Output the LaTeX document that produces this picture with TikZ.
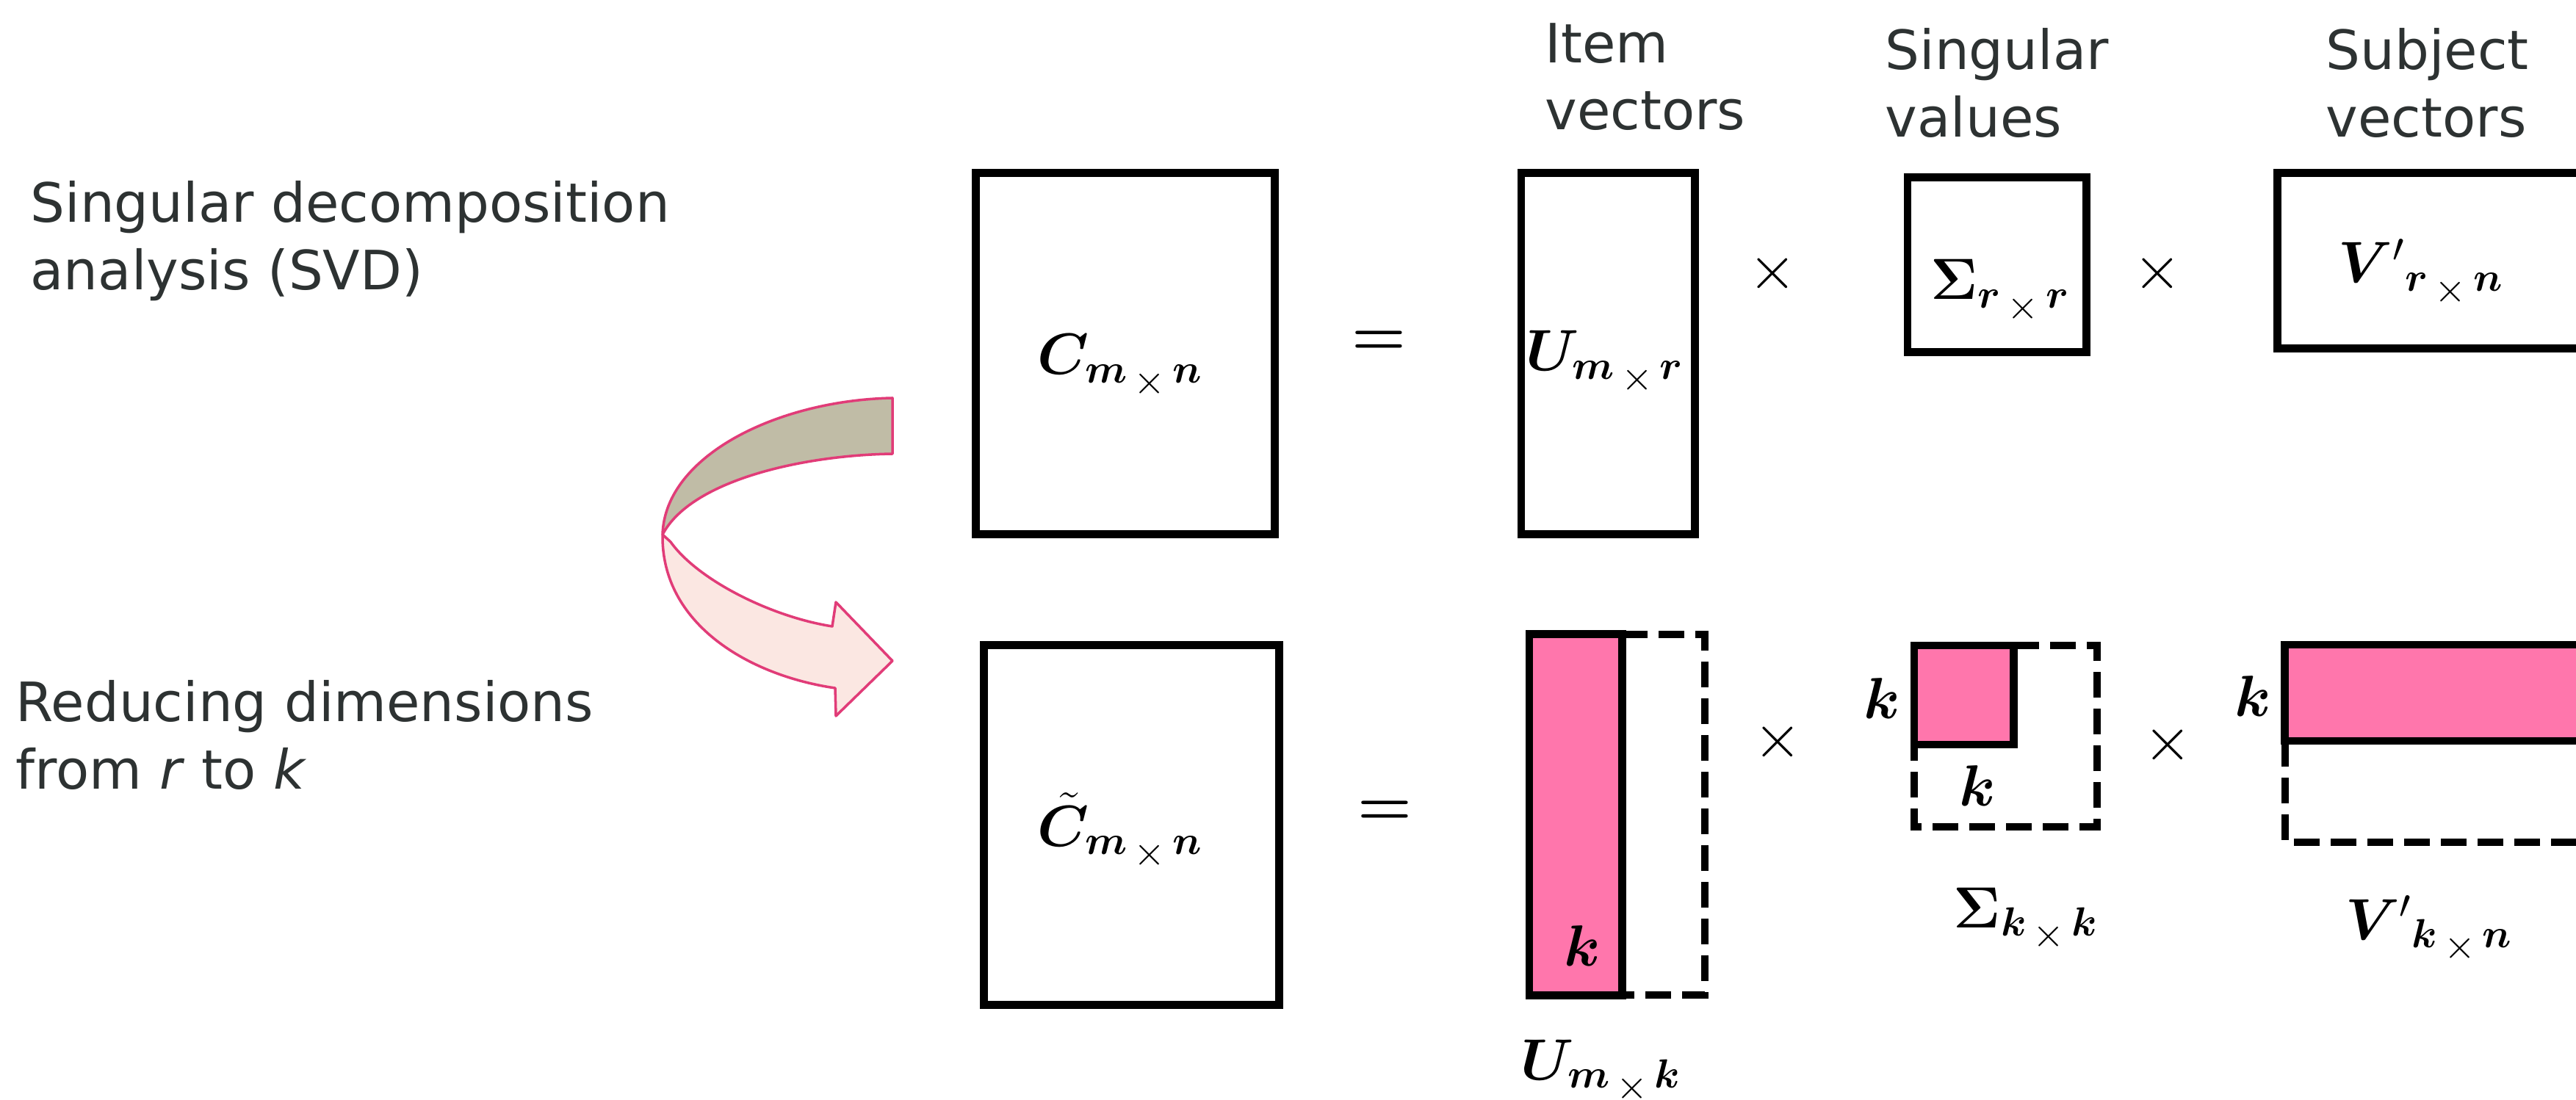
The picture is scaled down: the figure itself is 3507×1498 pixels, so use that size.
\documentclass[tikz,border=0pt]{standalone}
\usepackage{fix-cm}
\usepackage{amsmath}
\usepackage{bm}
\usepackage{fontspec}
\newfontfamily\lab{DejaVu Sans}
\definecolor{pinkfill}{RGB}{255,118,172}
\definecolor{arrowedge}{RGB}{225,60,120}
\definecolor{arrowback}{RGB}{192,188,166}
\definecolor{arrowfront}{RGB}{251,231,226}
\definecolor{labtext}{RGB}{45,50,50}
\newcommand\dims[2]{_{\bm{#1}\,\raisebox{-0.18em}{$\scriptstyle\times$}\,\bm{#2}}}
\begin{document}
\begin{tikzpicture}[x=0.01cm,y=-0.01cm,
  mat/.style={draw=black,line width=3.1pt,inner sep=0pt,outer sep=0pt},
  redbox/.style={mat,fill=pinkfill},
  dashline/.style={draw=black,line width=2.8pt,dash pattern=on 0.35cm off 0.15cm},
  captext/.style={font=\lab\fontsize{21}{26}\selectfont,text=labtext,align=left,inner sep=0pt,anchor=north west},
  mlabel/.style={font=\fontsize{22.5}{26}\selectfont,inner sep=0pt,anchor=base},
  op/.style={font=\fontsize{24}{28}\selectfont,inner sep=0pt},
  ribbon/.style={draw=arrowedge,line width=1pt,line join=round}]
\useasboundingbox (0,0) rectangle (3507,1498);

% left captions
\node[captext] (svd) at (41,246) {Singular decomposition\\analysis (SVD)};
\node[captext] (red) at (21,926) {Reducing dimensions\\from \textit{r} to \textit{k}};

% top captions
\node[captext] (item) at (2103,31) {Item\\vectors};
\node[captext] (sing) at (2566,38) {Singular\\values};
\node[captext] (subj) at (3166,38) {Subject\\vectors};

% twisted ribbon arrow
\path[ribbon,fill=arrowback]
  (1215,542) .. controls (1060,545) and (905,620) .. (902,728)
  .. controls (940,655) and (1090,620) .. (1215,618) -- cycle;
\path[ribbon,fill=arrowfront]
  (902,728) .. controls (900,850) and (1020,920) .. (1137,937)
  -- (1138,975) -- (1215,900) -- (1138,820) -- (1133,853)
  .. controls (1050,840) and (950,790) .. (913,738) -- cycle;

% top row
\node[mat,minimum width=4.06cm,minimum height=4.91cm] (C) at (1532,481.5) {};
\node[mat,minimum width=2.36cm,minimum height=4.91cm] (U) at (2189,481.5) {};
\node[mat,minimum width=2.43cm,minimum height=2.37cm] (S) at (2718.5,360.5) {};
\node[mat,minimum width=4.99cm,minimum height=2.38cm] (V) at (3350.5,355) {};

\node[mlabel] (Clab) at (1525,510) {$\bm{C}\dims{m}{n}$};
\node[mlabel] (Ulab) at (2185,505) {$\bm{U}\dims{m}{r}$};
\node[mlabel] (Slab) at (2723,408) {$\bm{\Sigma}\dims{r}{r}$};
\node[mlabel] (Vlab) at (3296,385) {${\bm{V}'}\dims{r}{n}$};

\node[op] (eq1) at (1877,467) {$\bm{=}$};
\node[op] (x1) at (2413,372) {$\times$};
\node[op] (x2) at (2937,372) {$\times$};

% bottom row
\node[mat,minimum width=4.01cm,minimum height=4.89cm] (Ct) at (1540.5,1123.5) {};
\node[redbox,minimum width=1.26cm,minimum height=4.91cm] (Uk) at (2145,1109.5) {};
\node[redbox,minimum width=1.35cm,minimum height=1.35cm] (Sk) at (2673.5,946.5) {};
\node[redbox,minimum width=4.89cm,minimum height=1.31cm] (Vk) at (3355.5,943.5) {};

\draw[dashline] (Uk.north east) -- ++(113,0) |- (Uk.south east);
\draw[dashline] (Sk.north east) -- ++(114,0) -- ++(0,247) -| (Sk.south west);
\draw[dashline] (Vk.south west) -- ++(0,138) -- ++(600,0);

\node[mlabel] (Ctlab) at (1525,1152) {$\tilde{\bm{C}}\dims{m}{n}$};
\node[mlabel] (Uklab) at (2180,1470) {$\bm{U}\dims{m}{k}$};
\node[mlabel] (Sklab) at (2758,1263) {$\bm{\Sigma}\dims{k}{k}$};
\node[mlabel] (Vklab) at (3307,1279) {${\bm{V}'}\dims{k}{n}$};

\node[mlabel] (kU) at (2154,1315) {$\bm{k}$};
\node[mlabel] (kS1) at (2562,978) {$\bm{k}$};
\node[mlabel] (kS2) at (2692,1097) {$\bm{k}$};
\node[mlabel] (kV) at (3067,975) {$\bm{k}$};

\node[op] (eq2) at (1885,1107) {$\bm{=}$};
\node[op] (x3) at (2420,1010) {$\times$};
\node[op] (x4) at (2951,1014) {$\times$};
\end{tikzpicture}
\end{document}
